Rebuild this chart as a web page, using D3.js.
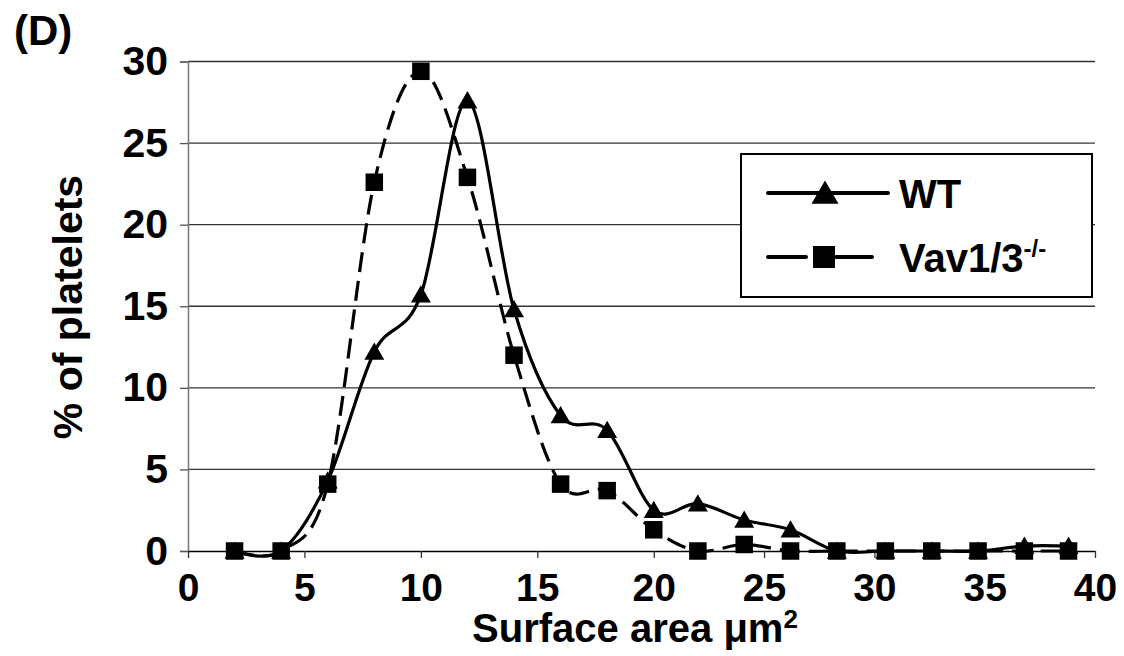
<!DOCTYPE html>
<html>
<head>
<meta charset="utf-8">
<script src="https://cdn.jsdelivr.net/npm/d3@7/dist/d3.min.js"></script>
<style>
  body { margin: 0; background: #fff; }
  text { font-family: "Liberation Sans", Arial, sans-serif; font-weight: bold; fill: #000; }
</style>
</head>
<body>
<div id="chart"></div>
<script>
// surface area bins (µm²)
const areaBins = [2, 4, 6, 8, 10, 12, 14, 16, 18, 20, 22, 24.1, 26.2, 28.3, 30.5, 32.6, 34.7, 36.8, 38.8];
const wtValues = [0, 0, 4.3, 12.2, 15.7, 27.6, 14.8, 8.3, 7.4, 2.5, 2.9, 1.9, 1.3, 0, 0, 0, 0, 0.3, 0.3];
const vavValues = [0, 0, 4.1, 22.6, 29.4, 22.9, 12.0, 4.1, 3.7, 1.3, 0, 0.4, 0, 0, 0, 0, 0, 0, 0];
const xTicks = [0, 5, 10, 15, 20, 25, 30, 35, 40];
const yTicks = [0, 5, 10, 15, 20, 25, 30];

const series = [
    { key: 'wt', label: 'WT', sup: '', values: wtValues, marker: 'triangle', dash: null },
    { key: 'vav', label: 'Vav1/3', sup: '-/-', values: vavValues, marker: 'square', dash: '20,9' }
];

const W = 1124, H = 656;
const margin = { top: 61.5, right: 29, bottom: 105, left: 188 },
    width = W - margin.left - margin.right,
    height = H - margin.top - margin.bottom;

const svg = d3.select('#chart').append('svg')
    .attr('width', W)
    .attr('height', H);

const g = svg.append('g')
    .attr('transform', `translate(${margin.left},${margin.top})`);

// the original axis labels are not evenly spaced: bend the scale at 20
const x = d3.scaleLinear().domain([0, 20, 40]).range([0, width * 0.5135, width]);
const y = d3.scaleLinear().domain([0, 30]).range([height, 0]);

// gridlines
g.append('g')
    .selectAll('line')
    .data(yTicks.filter(d => d > 0))
    .enter().append('line')
    .attr('x1', 0).attr('x2', width)
    .attr('y1', d => y(d)).attr('y2', d => y(d))
    .attr('stroke', '#333')
    .attr('stroke-width', 1.3);

// y axis
const yAxis = g.append('g')
    .call(d3.axisLeft(y).tickValues(yTicks).tickSize(8).tickPadding(12));
yAxis.select('.domain').attr('stroke', '#777').attr('stroke-width', 1.5);
yAxis.selectAll('.tick line').attr('stroke', '#555').attr('stroke-width', 1.3);
yAxis.selectAll('.tick text')
    .style('font-size', '41px')
    .style('font-family', '"Liberation Sans", Arial, sans-serif')
    .style('font-weight', 'bold')
    .attr('fill', '#000');

// x axis
const xAxis = g.append('g')
    .attr('transform', `translate(0,${height})`)
    .call(d3.axisBottom(x).tickValues(xTicks).tickSize(7).tickPadding(20).tickSizeOuter(0));
xAxis.select('.domain').attr('stroke', '#000').attr('stroke-width', 1.5);
xAxis.selectAll('.tick line').attr('stroke', '#333').attr('stroke-width', 1.3);
xAxis.selectAll('.tick text')
    .style('font-size', '39px')
    .style('font-family', '"Liberation Sans", Arial, sans-serif')
    .style('font-weight', 'bold')
    .attr('fill', '#000')
    .attr('dy', '0.6em');

// series lines, WT first so the squares sit on top
const line = d3.line()
    .curve(d3.curveCatmullRom.alpha(0))
    .x((d, i) => x(areaBins[i]))
    .y(d => y(d));

const triangle = d3.symbol().type(d3.symbolTriangle);
const markerPath = (type, size) => type === 'triangle'
    ? triangle.size(size * size * 0.433)()
    : `M${-size / 2},${-size / 2}h${size}v${size}h${-size}Z`;

series.forEach(s => {
    g.append('path')
        .datum(s.values)
        .attr('fill', 'none')
        .attr('stroke', '#000')
        .attr('stroke-width', 3.2)
        .attr('stroke-dasharray', s.dash)
        .attr('d', line);

    g.selectAll(`.pt-${s.key}`)
        .data(s.values)
        .enter().append('path')
        .attr('class', `pt-${s.key}`)
        .attr('transform', (d, i) => `translate(${x(areaBins[i])},${y(d) + (s.marker === 'triangle' ? 2 : 0)})`)
        .attr('d', markerPath(s.marker, s.marker === 'triangle' ? 20 : 17.5))
        .attr('fill', '#000');
});

// legend
const legend = svg.append('g').attr('transform', 'translate(741,154)');
legend.append('rect')
    .attr('width', 351).attr('height', 143)
    .attr('fill', '#fff')
    .attr('stroke', '#000')
    .attr('stroke-width', 2);

series.forEach((s, i) => {
    const ly = 39 + i * 64;
    legend.append('line')
        .attr('x1', 27).attr('x2', s.dash ? 131 : 147)
        .attr('y1', ly).attr('y2', ly)
        .attr('stroke', '#000')
        .attr('stroke-width', 4)
        .attr('stroke-linecap', 'round')
        .attr('stroke-dasharray', s.dash ? '38,30' : null);
    legend.append('path')
        .attr('transform', `translate(${s.dash ? 83 : 84},${ly + (s.marker === 'triangle' ? 3 : 0)})`)
        .attr('d', markerPath(s.marker, s.marker === 'triangle' ? 27 : 22))
        .attr('fill', '#000');
    const t = legend.append('text')
        .attr('x', 158)
        .attr('y', ly + 15)
        .style('font-size', '40px')
        .text(s.label);
    if (s.sup) {
        t.append('tspan')
            .attr('dy', -15)
            .style('font-size', '24px')
            .text(s.sup);
    }
});

// titles
svg.append('text')
    .attr('x', 14)
    .attr('y', 45)
    .style('font-size', '42px')
    .text('(D)');

svg.append('text')
    .attr('transform', 'translate(82,307) rotate(-90)')
    .attr('text-anchor', 'middle')
    .style('font-size', '41px')
    .text('% of platelets');

const xt = svg.append('text')
    .attr('x', 635)
    .attr('y', 642)
    .attr('text-anchor', 'middle')
    .style('font-size', '40px');
xt.append('tspan').text('Surface area \u03bcm');
xt.append('tspan').attr('dy', -14).style('font-size', '26px').text('2');
</script>
</body>
</html>
